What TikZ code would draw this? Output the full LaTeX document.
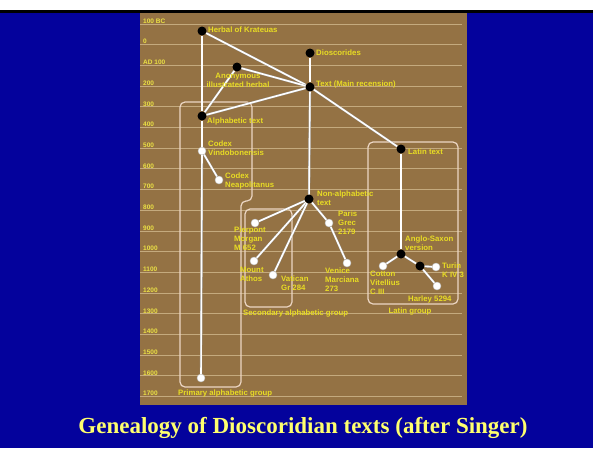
\documentclass[tikz,border=0pt]{standalone}
\usepackage{fontspec}
\setsansfont{Liberation Sans}
\newfontfamily\capfont{Liberation Serif}
\definecolor{bgblue}{RGB}{4,2,156}
\definecolor{panel}{RGB}{148,114,68}
\definecolor{gridc}{RGB}{196,170,126}
\definecolor{txty}{RGB}{232,220,36}
\definecolor{capy}{RGB}{255,255,110}
\definecolor{grpc}{RGB}{236,214,196}

\begin{document}
\begin{tikzpicture}[x=1pt,y=-1pt,
    dot/.style={circle,fill=black,inner sep=0,minimum size=9},
    wdot/.style={circle,fill=white,draw=black!25,inner sep=0,minimum size=8},
    lbl/.style={text=txty,font=\sffamily\bfseries\fontsize{7.8}{9}\selectfont,inner sep=0,align=left,anchor=west},
    yr/.style={text=txty!85!white,font=\sffamily\bfseries\fontsize{6.5}{8}\selectfont,inner sep=0,anchor=west},
    link/.style={draw=black!40,double=white,double distance=1.6pt,line width=0.3pt},
    grp/.style={draw=grpc,line width=1.2pt,rounded corners=5}]
  \useasboundingbox (0,0) rectangle (593,448);
  \fill[bgblue] (0,12) rectangle (593,448);
  \fill[black] (0,10) rectangle (593,13);
  \fill[panel] (140,13) rectangle (467,405);
  \foreach \yr [count=\i from 0] in {100 BC,0,AD 100,200,300,400,500,600,700,800,900,1000,1100,1200,1300,1400,1500,1600,1700}{
    \draw[gridc,line width=0.9pt] (140,24+20.7*\i) -- (462,24+20.7*\i);
    \node[yr] (yr\i) at (143,21+20.7*\i) {\yr};
  }

  \draw[grp] (180,102) -- (252,102) -- (252,201) -- (241,201) -- (241,387) -- (180,387) -- cycle;
  \draw[grp] (245,209) rectangle (292,307);
  \draw[grp] (368,142) rectangle (458,304);
  \node[lbl] (g-prim) at (178,393) {Primary alphabetic group};
  \node[lbl] (g-sec) at (243,313) {Secondary alphabetic group};
  \node[lbl,anchor=center] (g-lat) at (410,311) {Latin group};

  \node[dot] (kra) at (202,31) {};
  \node[dot] (dio) at (310,53) {};
  \node[dot] (txt) at (310,87) {};
  \node[dot] (anon) at (237,67) {};
  \node[dot] (alph) at (202,116) {};
  \node[wdot] (vin) at (202,151) {};
  \node[wdot] (nea) at (219,180) {};
  \node[wdot] (prim) at (201,378) {};
  \node[dot] (non) at (309,199) {};
  \node[wdot] (pie) at (255,223) {};
  \node[wdot] (ath) at (254,261) {};
  \node[wdot] (vat) at (273,275) {};
  \node[wdot] (par) at (329,223) {};
  \node[wdot] (ven) at (347,263) {};
  \node[dot] (lat) at (401,149) {};
  \node[dot] (ang) at (401,254) {};
  \node[wdot] (cot) at (383,266) {};
  \node[dot] (sub) at (420,266) {};
  \node[wdot] (tur) at (436,267) {};
  \node[wdot] (har) at (437,286) {};

  \foreach \a/\b in {kra/alph,kra/txt,dio/txt,anon/txt,anon/alph,txt/alph,alph/vin,vin/prim,vin/nea,
    txt/non,txt/lat,non/pie,non/ath,non/vat,non/par,par/ven,lat/ang,ang/cot,ang/sub,sub/tur,sub/har}
    \draw[link] (\a) -- (\b);

  \node[lbl] (l-kra) at (208,30) {Herbal of Krateuas};
  \node[lbl] (l-dio) at (316,53) {Dioscorides};
  \node[lbl] (l-txt) at (316,84) {Text (Main recension)};
  \node[lbl,anchor=center,align=center] (l-anon) at (238,80) {Anonymous\\illustrated herbal};
  \node[lbl] (l-alph) at (207,121) {Alphabetic text};
  \node[lbl] (l-vin) at (208,148) {Codex\\Vindobonensis};
  \node[lbl] (l-nea) at (225,181) {Codex\\Neapolitanus};
  \node[lbl] (l-non) at (317,198) {Non-alphabetic\\text};
  \node[lbl] (l-pie) at (234,239) {Pierpont\\Morgan\\M 652};
  \node[lbl] (l-ath) at (240,274) {Mount\\Athos};
  \node[lbl] (l-vat) at (281,283) {Vatican\\Gr 284};
  \node[lbl] (l-par) at (338,223) {Paris\\Grec\\2179};
  \node[lbl] (l-ven) at (325,280) {Venice\\Marciana\\273};
  \node[lbl] (l-lat) at (408,152) {Latin text};
  \node[lbl] (l-ang) at (405,243) {Anglo-Saxon\\version};
  \node[lbl] (l-cot) at (370,283) {Cotton\\Vitellius\\C III};
  \node[lbl] (l-tur) at (442,270) {Turin\\K IV 3};
  \node[lbl] (l-har) at (408,299) {Harley 5294};

  \node[text=capy,font=\capfont\bfseries\fontsize{23}{25}\selectfont] (cap) at (303,428) {Genealogy of Dioscoridian texts (after Singer)};
\end{tikzpicture}
\end{document}
